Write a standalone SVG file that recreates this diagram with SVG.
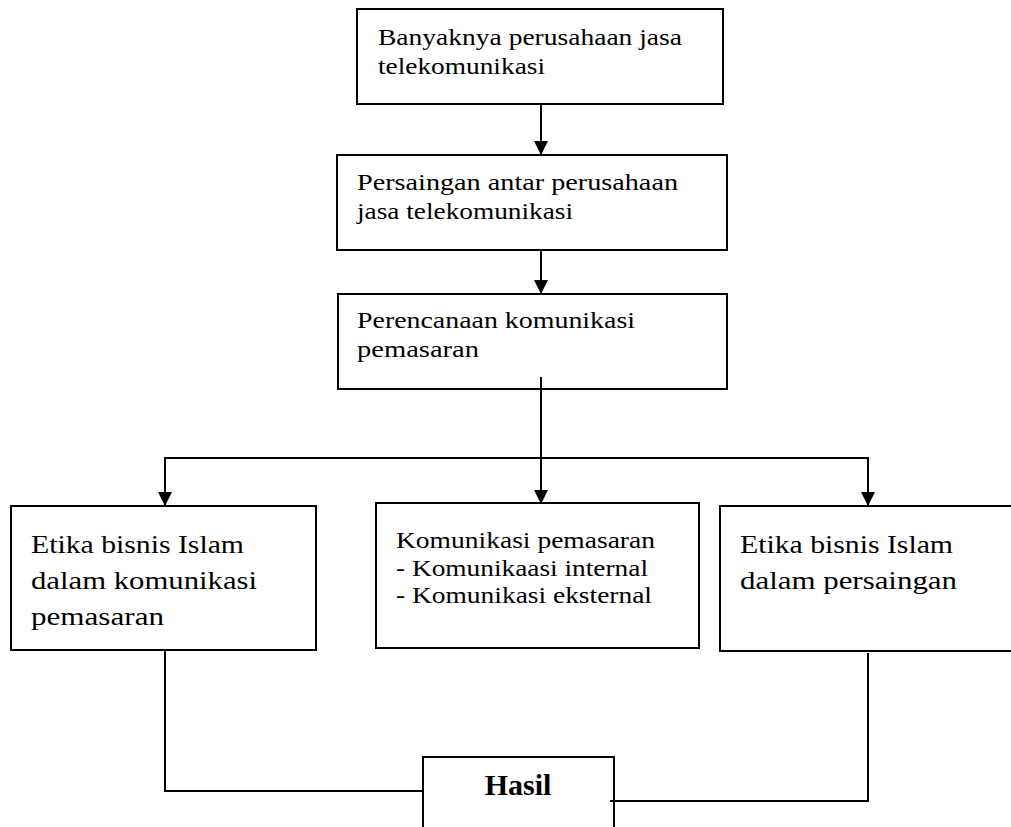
<svg xmlns="http://www.w3.org/2000/svg" width="1011" height="827" viewBox="0 0 1011 827">
<style>
.box{fill:#fff;stroke:#000;stroke-width:2}
.ln{fill:none;stroke:#000;stroke-width:2}
.t{font-family:"Liberation Serif","Times New Roman",serif;font-size:24px;fill:#000}
.t2{font-family:"Liberation Serif","Times New Roman",serif;font-size:26px;fill:#000}
.tb{font-family:"Liberation Serif","Times New Roman",serif;font-size:30px;font-weight:bold;fill:#000}
</style>
<defs>
<marker id="ah" viewBox="0 0 14 14" refX="14" refY="7" markerWidth="14" markerHeight="14" markerUnits="userSpaceOnUse" orient="auto">
<path d="M0,0 L14,7 L0,14 Z" fill="#000"/>
</marker>
</defs>
<g id="node1">
<rect class="box" x="357" y="9" width="366" height="95"/>
<text class="t" x="378" y="45" textLength="304" lengthAdjust="spacingAndGlyphs">Banyaknya perusahaan jasa</text>
<text class="t" x="378" y="74" textLength="167" lengthAdjust="spacingAndGlyphs">telekomunikasi</text>
</g>
<g id="node2">
<rect class="box" x="337" y="155" width="390" height="95"/>
<text class="t" x="357" y="190" textLength="321" lengthAdjust="spacingAndGlyphs">Persaingan antar perusahaan</text>
<text class="t" x="357" y="219" textLength="216" lengthAdjust="spacingAndGlyphs">jasa telekomunikasi</text>
</g>
<g id="node3">
<rect class="box" x="338" y="294" width="389" height="95"/>
<text class="t" x="357" y="328" textLength="278" lengthAdjust="spacingAndGlyphs">Perencanaan komunikasi</text>
<text class="t" x="357" y="357" textLength="122" lengthAdjust="spacingAndGlyphs">pemasaran</text>
</g>
<g id="node4">
<rect class="box" x="11" y="506" width="305" height="144"/>
<text class="t2" x="31" y="553" textLength="213" lengthAdjust="spacingAndGlyphs">Etika bisnis Islam</text>
<text class="t2" x="31" y="589" textLength="226" lengthAdjust="spacingAndGlyphs">dalam komunikasi</text>
<text class="t2" x="31" y="625" textLength="133" lengthAdjust="spacingAndGlyphs">pemasaran</text>
</g>
<g id="node5">
<rect class="box" x="376" y="503" width="323" height="145"/>
<text class="t" x="396" y="548" textLength="259" lengthAdjust="spacingAndGlyphs">Komunikasi pemasaran</text>
<text class="t" x="396" y="576" textLength="252" lengthAdjust="spacingAndGlyphs">- Komunikaasi internal</text>
<text class="t" x="396" y="603" textLength="256" lengthAdjust="spacingAndGlyphs">- Komunikasi eksternal</text>
</g>
<g id="node6">
<rect class="box" x="720" y="506" width="300" height="145"/>
<text class="t2" x="740" y="553" textLength="213" lengthAdjust="spacingAndGlyphs">Etika bisnis Islam</text>
<text class="t2" x="740" y="589" textLength="217" lengthAdjust="spacingAndGlyphs">dalam persaingan</text>
</g>
<g id="node7">
<rect class="box" x="423" y="757" width="191" height="100"/>
<text class="tb" x="518" y="795" text-anchor="middle">Hasil</text>
</g>
<g id="connectors">
<line class="ln" x1="541" y1="104" x2="541" y2="155" marker-end="url(#ah)"/>
<line class="ln" x1="541" y1="250" x2="541" y2="294" marker-end="url(#ah)"/>
<line class="ln" x1="541" y1="377" x2="541" y2="504" marker-end="url(#ah)"/>
<line class="ln" x1="164" y1="458" x2="869" y2="458"/>
<line class="ln" x1="165" y1="458" x2="165" y2="506" marker-end="url(#ah)"/>
<line class="ln" x1="868" y1="458" x2="868" y2="506" marker-end="url(#ah)"/>
<polyline class="ln" points="165,649 165,791 423,791"/>
<polyline class="ln" points="868,653 868,801 610,801"/>
</g>
</svg>
